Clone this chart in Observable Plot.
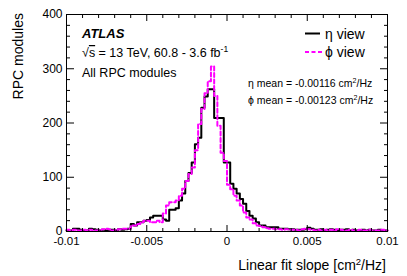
<!DOCTYPE html>
<html><head><meta charset="utf-8">
<script src="https://cdn.jsdelivr.net/npm/d3@7"></script>
<script src="https://cdn.jsdelivr.net/npm/@observablehq/plot@0.6"></script>
<style>html,body{margin:0;padding:0;background:#fff;} svg{display:block}</style>
</head><body><div id="chart"></div>
<script>
// ---- data ----
const binLo = -0.01, binHi = 0.01, nBins = 100;
const etaCounts = [
  2,2,5,5,3,2,2,5,4,3, 2,3,2,3,3,2,4,3,4,5,
  14,11,17,17,20,21,26,29,29,29, 22,20,40,40,43,57,70,93,108,127,
  161,173,228,249,262,262,209,209,209,127, 127,88,79,70,60,51,38,29,24,17,
  11,11,8,8,8,8,5,5,5,4, 4,3,3,3,4,7,5,3,3,4,
  2,3,4,3,2,3,3,4,2,3, 2,2,3,2,3,2,2,3,2,2
];
const phiCounts = [
  3,2,3,2,2,3,2,3,2,2, 3,4,5,4,2,3,4,5,5,5,
  11,11,14,17,20,20,17,17,20,17, 33,48,54,54,57,66,79,93,106,118,
  150,198,226,255,277,304,250,195,145,130, 86,78,66,57,48,35,26,22,15,11,
  10,8,6,5,5,4,4,3,4,3, 3,3,2,4,5,4,3,2,3,2,
  3,2,3,2,4,3,2,2,3,2, 2,3,2,2,3,2,2,2,3,2
];
const yMajorTicks = [0, 100, 200, 300, 400];
const xMajorTicks = [-0.01, -0.005, 0, 0.005, 0.01];
const xTickLabels = ["-0.01", "-0.005", "0", "0.005", "0.01"];
const seriesNames = ["η view", "ϕ view"];
const seriesColors = ["#000000", "#ff00ff"];
const meanLabels = [["η mean = -0.00116 cm", "2", "/Hz"], ["ϕ mean = -0.00123 cm", "2", "/Hz"]];
const xTitle = ["Linear fit slope [cm", "2", "/Hz]"];
const yTitle = "RPC modules";

// ---- build ----
const binW = (binHi - binLo) / nBins;
function steps(counts) {
  const rows = counts.map((c, i) => ({x: binLo + i * binW, y: c}));
  rows.push({x: binHi, y: counts[counts.length - 1]});
  return rows;
}
const yMinor = d3.range(0, 401, 20).filter(d => d % 100 !== 0);
const xMinor = d3.range(-10, 11).map(k => k / 1000).filter(d => !xMajorTicks.some(t => Math.abs(t - d) < 1e-9));
const font = "'Liberation Sans', Arial, Helvetica, sans-serif";
const blank = () => "";

const svg = Plot.plot({
  width: 407, height: 276,
  marginLeft: 66, marginRight: 20, marginTop: 14, marginBottom: 45,
  x: {domain: [binLo, binHi]},
  y: {domain: [0, 400]},
  style: {fontFamily: font, fontSize: "12px", background: "white", color: "black"},
  marks: [
    Plot.line(steps(etaCounts), {x: "x", y: "y", curve: "step-after", stroke: seriesColors[0], strokeWidth: 2}),
    Plot.line(steps(phiCounts), {x: "x", y: "y", curve: "step-after", stroke: seriesColors[1], strokeWidth: 2, strokeDasharray: "4,2.5"}),
    Plot.frame({stroke: "black", strokeWidth: 1}),
    // inward ticks
    Plot.axisY(yMajorTicks, {anchor: "left", tickSize: 8, dx: 8, tickFormat: blank, label: null}),
    Plot.axisY(yMinor, {anchor: "left", tickSize: 4, dx: 4, tickFormat: blank, label: null}),
    Plot.axisY(yMajorTicks, {anchor: "right", tickSize: 8, dx: -8, tickFormat: blank, label: null}),
    Plot.axisY(yMinor, {anchor: "right", tickSize: 4, dx: -4, tickFormat: blank, label: null}),
    Plot.axisX(xMajorTicks, {anchor: "bottom", tickSize: 6, dy: -6, tickFormat: blank, label: null}),
    Plot.axisX(xMinor, {anchor: "bottom", tickSize: 3, dy: -3, tickFormat: blank, label: null}),
    Plot.axisX(xMajorTicks, {anchor: "top", tickSize: 6, dy: 6, tickFormat: blank, label: null}),
    Plot.axisX(xMinor, {anchor: "top", tickSize: 3, dy: 3, tickFormat: blank, label: null}),
    // labels
    Plot.axisY(yMajorTicks, {anchor: "left", tickSize: 0, tickPadding: 4, fontSize: 12, label: null}),
    Plot.axisX(xMajorTicks, {anchor: "bottom", tickSize: 0, tickPadding: 5, fontSize: 11.5, label: null,
      tickFormat: d => xTickLabels[xMajorTicks.indexOf(d)]})
  ]
});
document.getElementById("chart").appendChild(svg);

// ---- annotations ----
const s = d3.select(svg);
function addText(x, y, size) {
  return s.append("text").attr("x", x).attr("y", y)
    .attr("font-family", font).attr("font-size", size).attr("fill", "black")
    .attr("text-anchor", "start");
}
function richText(x, y, parts, size, anchor) {
  const t = addText(x, y, size).attr("text-anchor", anchor || "start");
  t.append("tspan").text(parts[0]);
  if (parts.length > 1) {
    t.append("tspan").attr("dy", -size * 0.38).attr("font-size", size * 0.68).text(parts[1]);
    t.append("tspan").attr("dy", size * 0.38).text(parts[2]);
  }
  return t;
}
addText(82, 38, 13).attr("font-weight", "bold").attr("font-style", "italic").text("ATLAS");
const rs = addText(82, 57, 12.5);
rs.append("tspan").text("√");
rs.append("tspan").attr("text-decoration", "overline").text("s");
rs.append("tspan").text(" = 13 TeV, 60.8 - 3.6 fb");
rs.append("tspan").attr("dy", -5).attr("font-size", 8.5).text("-1");
addText(82, 77, 12.5).text("All RPC modules");

// legend
const legY = [33.5, 52];
seriesNames.forEach((name, i) => {
  s.append("line").attr("x1", 305).attr("x2", i ? 323 : 320).attr("y1", legY[i]).attr("y2", legY[i])
    .attr("stroke", seriesColors[i]).attr("stroke-width", 2)
    .attr("stroke-dasharray", i ? "4,2.5" : null);
  addText(325, legY[i] + 5, 14).text(name);
});
richText(248, 87, meanLabels[0], 10.5);
richText(248, 104, meanLabels[1], 10.5);

// axis titles
richText(386, 270, xTitle, 14, "end");
s.append("text").attr("transform", "translate(23,13) rotate(-90)").attr("text-anchor", "end")
  .attr("font-family", font).attr("font-size", 14).attr("fill", "black").text(yTitle);
</script>
</body></html>
